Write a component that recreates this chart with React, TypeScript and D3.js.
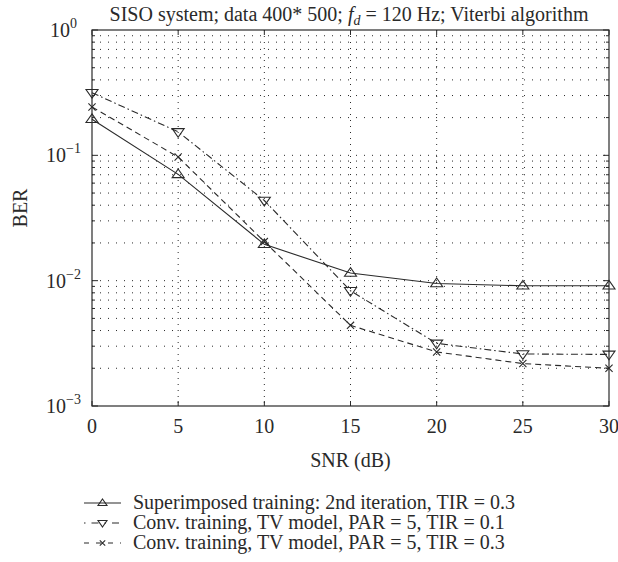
import React from "react";
import * as d3 from "d3";

const snr = [0, 5, 10, 15, 20, 25, 30];
const superimposedBer = [0.194, 0.0705, 0.0195, 0.0115, 0.0095, 0.0091, 0.0091];
const convTir01Ber = [0.316, 0.154, 0.0436, 0.0083, 0.00316, 0.0026, 0.00258];
const convTir03Ber = [0.243, 0.097, 0.0205, 0.0044, 0.0027, 0.00218, 0.002];

const xTicks = [0, 5, 10, 15, 20, 25, 30];
const yDecades = [0, -1, -2, -3];
const legendLabels = [
  "Superimposed training: 2nd iteration, TIR = 0.3",
  "Conv. training, TV model, PAR = 5, TIR = 0.1",
  "Conv. training, TV model, PAR = 5, TIR = 0.3",
];

const W = 618;
const H = 562;
const M = { left: 92, right: 609, top: 30, bottom: 406 };
const FONT = "'Liberation Serif', 'Times New Roman', serif";
const FS = 20;
const INK = "#2a2a2a";

type Series = { values: number[]; dash: string; legendDash: string; marker: "up" | "down" | "x"; label: string };

const series: Series[] = [
  { values: superimposedBer, dash: "none", legendDash: "none", marker: "up", label: legendLabels[0] },
  { values: convTir01Ber, dash: "7,3,1.5,3", legendDash: "1.5,6,7,6", marker: "down", label: legendLabels[1] },
  { values: convTir03Ber, dash: "6,4", legendDash: "5,7", marker: "x", label: legendLabels[2] },
];

function Marker({ kind, x, y, s }: { kind: string; x: number; y: number; s: number }) {
  if (kind === "up") {
    const h = s * 0.9;
    return (
      <path
        d={`M${x},${y - h} L${x + s},${y + h * 0.6} L${x - s},${y + h * 0.6} Z`}
        fill="none"
        stroke={INK}
        strokeWidth={1.1}
      />
    );
  }
  if (kind === "down") {
    const h = s * 0.9;
    return (
      <path
        d={`M${x},${y + h} L${x + s},${y - h * 0.6} L${x - s},${y - h * 0.6} Z`}
        fill="none"
        stroke={INK}
        strokeWidth={1.1}
      />
    );
  }
  const r = s * 0.6;
  return (
    <path
      d={`M${x - r},${y - r} L${x + r},${y + r} M${x - r},${y + r} L${x + r},${y - r}`}
      stroke={INK}
      strokeWidth={1.1}
    />
  );
}

export default function App() {
  const x = d3.scaleLinear().domain([0, 30]).range([M.left, M.right]);
  const y = d3.scaleLog().domain([1e-3, 1]).range([M.bottom, M.top]);

  const line = d3
    .line<[number, number]>()
    .x((d) => x(d[0]))
    .y((d) => y(d[1]));

  const minorVals: number[] = [];
  for (let e = -3; e < 0; e++) {
    for (let k = 2; k <= 9; k++) minorVals.push(k * Math.pow(10, e));
  }

  const legendY = [503, 523, 543];

  return (
    <svg width={W} height={H} style={{ position: "absolute", left: 0, top: 0, background: "#fff" }}>
      {/* grid */}
      <g stroke={INK} strokeWidth={1} strokeDasharray="1,7" fill="none">
        {[...minorVals, 1e-2, 1e-1].map((v, i) => (
          <line key={"hg" + i} x1={M.left} x2={M.right} y1={y(v)} y2={y(v)} />
        ))}
        {xTicks.slice(1, -1).map((t) => (
          <line key={"vg" + t} x1={x(t)} x2={x(t)} y1={M.top} y2={M.bottom} strokeDasharray="1,5" />
        ))}
      </g>
      {/* ticks */}
      <g stroke={INK} strokeWidth={1}>
        {xTicks.map((t) => (
          <g key={"xt" + t}>
            <line x1={x(t)} x2={x(t)} y1={M.bottom} y2={M.bottom - 5} />
            <line x1={x(t)} x2={x(t)} y1={M.top} y2={M.top + 5} />
          </g>
        ))}
        {yDecades.map((e) => (
          <g key={"yt" + e}>
            <line x1={M.left} x2={M.left + 6} y1={y(Math.pow(10, e))} y2={y(Math.pow(10, e))} />
            <line x1={M.right} x2={M.right - 6} y1={y(Math.pow(10, e))} y2={y(Math.pow(10, e))} />
          </g>
        ))}
        {minorVals.map((v, i) => (
          <g key={"ym" + i}>
            <line x1={M.left} x2={M.left + 3} y1={y(v)} y2={y(v)} />
            <line x1={M.right} x2={M.right - 3} y1={y(v)} y2={y(v)} />
          </g>
        ))}
      </g>
      {/* box */}
      <rect
        x={M.left}
        y={M.top}
        width={M.right - M.left}
        height={M.bottom - M.top}
        fill="none"
        stroke={INK}
        strokeWidth={1.2}
      />
      {/* series */}
      {series.map((s, si) => {
        const pts = snr.map((v, i) => [v, s.values[i]] as [number, number]);
        return (
          <g key={"s" + si}>
            <path
              d={line(pts) || ""}
              fill="none"
              stroke={INK}
              strokeWidth={1.1}
              strokeDasharray={s.dash}
            />
            {pts.map((p, i) => (
              <Marker key={i} kind={s.marker} x={x(p[0])} y={y(p[1])} s={6} />
            ))}
          </g>
        );
      })}
      {/* x tick labels */}
      <g fontFamily={FONT} fontSize={FS} fill={INK} textAnchor="middle">
        {xTicks.map((t) => (
          <text key={"xl" + t} x={x(t)} y={M.bottom + 27}>
            {t}
          </text>
        ))}
        <text x={(M.left + M.right) / 2} y={467}>
          SNR (dB)
        </text>
      </g>
      {/* y tick labels */}
      <g fontFamily={FONT} fontSize={FS} fill={INK} textAnchor="end">
        {yDecades.map((e) => (
          <text key={"yl" + e} x={e === 0 ? 77 : 81} y={y(Math.pow(10, e)) + 7}>
            10
            <tspan fontSize={14} dy={-9}>
              {e === 0 ? "0" : "\u2212" + -e}
            </tspan>
          </text>
        ))}
      </g>
      <text
        fontFamily={FONT}
        fontSize={FS}
        fill={INK}
        textAnchor="middle"
        transform={`translate(27,${(M.top + M.bottom) / 2 - 10}) rotate(-90)`}
      >
        BER
      </text>
      {/* title */}
      <text fontFamily={FONT} fontSize={FS} fill={INK} textAnchor="middle" x={349} y={21}>
        SISO system; data 400* 500;{" "}
        <tspan fontStyle="italic">f</tspan>
        <tspan fontStyle="italic" fontSize={14} dy={4}>
          d
        </tspan>
        <tspan dy={-4}> = 120 Hz; Viterbi algorithm</tspan>
      </text>
      {/* legend */}
      {series.map((s, i) => (
        <g key={"lg" + i}>
          <line
            x1={84}
            x2={121}
            y1={legendY[i]}
            y2={legendY[i]}
            stroke={INK}
            strokeWidth={1.1}
            strokeDasharray={s.legendDash}
          />
          <Marker kind={s.marker} x={102.5} y={legendY[i]} s={4.5} />
          <text x={133} y={legendY[i] + 6} fontFamily={FONT} fontSize={FS} fill={INK}>
            {s.label}
          </text>
        </g>
      ))}
    </svg>
  );
}
